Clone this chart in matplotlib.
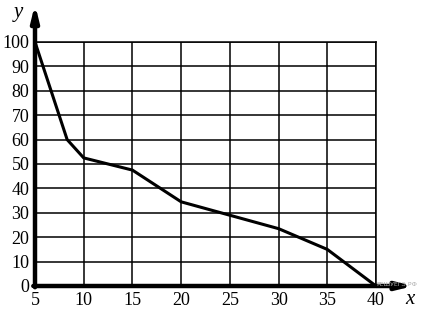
import matplotlib
matplotlib.use("Agg")
import matplotlib.pyplot as plt

# data
xs = [5, 8.3, 10, 15, 20, 30, 35, 40]
ys = [100, 60, 52.5, 47.5, 34.5, 23.5, 15, 0]
xticks = [5, 10, 15, 20, 25, 30, 35, 40]
yticks = [0, 10, 20, 30, 40, 50, 60, 70, 80, 90, 100]

plt.rcParams['font.family'] = ['Liberation Serif', 'DejaVu Serif']

fig = plt.figure(figsize=(4.22, 3.12), dpi=100)
ax = fig.add_axes([35 / 422, 26 / 312, 341 / 422, 244 / 312])

ax.set_xlim(5, 40)
ax.set_ylim(0, 100)
ax.set_xticks(xticks)
ax.set_yticks(yticks)
ax.grid(True, color='black', linewidth=1.1)
ax.tick_params(length=0, labelsize=13, pad=4)

for side in ['top', 'right']:
    ax.spines[side].set_linewidth(1.1)
for side in ['left', 'bottom']:
    ax.spines[side].set_visible(False)

ax.plot(xs, ys, color='black', linewidth=2.2, solid_joinstyle='miter', clip_on=False, zorder=3)

# thick axes with arrow heads
ax.annotate('', xy=(0, 1.155), xytext=(0, -0.005), xycoords='axes fraction',
            arrowprops=dict(arrowstyle='-|>,head_length=0.9,head_width=0.22', lw=3.2, color='black',
                            shrinkA=0, shrinkB=0), annotation_clip=False)
ax.annotate('', xy=(1.11, 0), xytext=(-0.005, 0), xycoords='axes fraction',
            arrowprops=dict(arrowstyle='-|>,head_length=0.9,head_width=0.22', lw=3.2, color='black',
                            shrinkA=0, shrinkB=0), annotation_clip=False)

fig.text(18 / 422, 1 - 12 / 312, 'y', fontsize=15, style='italic', ha='center', va='center')
fig.text(410 / 422, 1 - 299 / 312, 'x', fontsize=15, style='italic', ha='center', va='center')
fig.text(397 / 422, 1 - 285 / 312, 'РЕШУЕГЭ.РФ', fontsize=4.5, color='#aaaaaa',
         family=['DejaVu Sans'], ha='center', va='center')

fig.savefig('out.png', dpi=100)
